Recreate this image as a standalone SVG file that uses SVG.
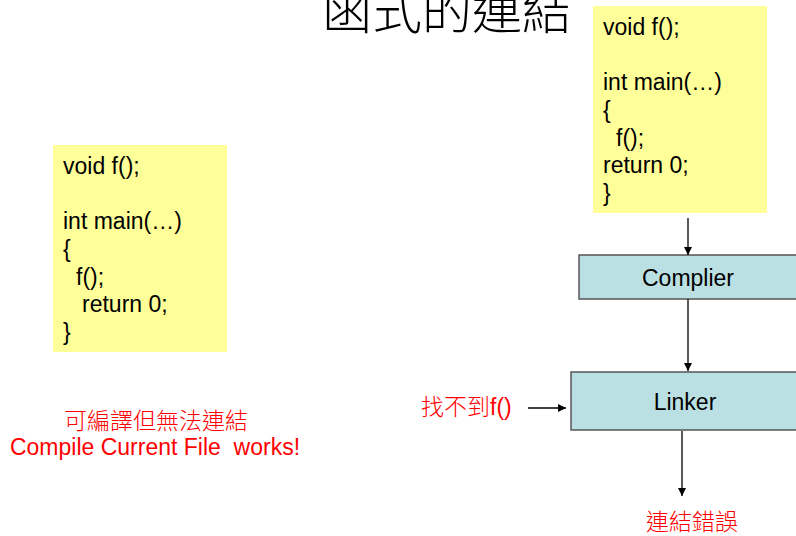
<svg xmlns="http://www.w3.org/2000/svg" width="796" height="536" viewBox="0 0 796 536">
<defs>
<marker id="ah" viewBox="0 0 10 10" refX="10" refY="5" markerWidth="10" markerHeight="8" markerUnits="userSpaceOnUse" orient="auto">
<path d="M0,0 L10,5 L0,10 Z" fill="#000"/>
</marker>
<style>
.code{fill:#FFFF99;stroke:none}
.proc{fill:#BBE0E3;stroke:#555;stroke-width:1.5}
.t{font-family:"Liberation Sans",Arial,sans-serif;font-size:23px;fill:#000}
.red{font-family:"Liberation Sans","Noto Sans CJK TC",sans-serif;font-size:23px;fill:#FF0000}
.cjk{font-family:"Noto Sans CJK TC",sans-serif;font-size:23px;fill:#FF0000;font-weight:300}
.title{font-family:"Noto Sans CJK TC",serif;font-size:50px;fill:#000;font-weight:300}
.conn{stroke:#000;stroke-width:1.3;fill:none;marker-end:url(#ah)}
</style>
</defs>
<rect width="796" height="536" fill="#fff"/>
<g id="title"><text class="title" x="322" y="29">函式的連結</text></g>
<g id="code-left">
<rect class="code" x="53" y="145" width="174" height="207"/>
<text class="t" x="63" y="174">void f();</text>
<text class="t" x="63" y="229">int main(…)</text>
<text class="t" x="63" y="257">{</text>
<text class="t" x="76" y="285">f();</text>
<text class="t" x="82" y="312">return 0;</text>
<text class="t" x="63" y="340">}</text>
</g>
<g id="code-right">
<rect class="code" x="593" y="6" width="174" height="207"/>
<text class="t" x="603" y="35">void f();</text>
<text class="t" x="603" y="90">int main(…)</text>
<text class="t" x="603" y="118">{</text>
<text class="t" x="616" y="146">f();</text>
<text class="t" x="603" y="173">return 0;</text>
<text class="t" x="603" y="201">}</text>
</g>
<g id="complier">
<rect class="proc" x="579" y="255" width="230" height="44"/>
<text class="t" x="688" y="286" text-anchor="middle">Complier</text>
</g>
<g id="linker">
<rect class="proc" x="571" y="372" width="240" height="58"/>
<text class="t" x="685" y="410" text-anchor="middle">Linker</text>
</g>
<g id="note-left">
<text class="cjk" x="156" y="429" text-anchor="middle">可編譯但無法連結</text>
<text class="red" x="155" y="455" text-anchor="middle" xml:space="preserve">Compile Current File  works!</text>
</g>
<g id="not-found">
<text x="421" y="415"><tspan class="cjk">找不到</tspan><tspan class="red">f()</tspan></text>
</g>
<g id="link-error">
<text class="cjk" x="692" y="530" text-anchor="middle">連結錯誤</text>
</g>
<g id="connectors">
<line class="conn" x1="688" y1="218" x2="688" y2="255"/>
<line class="conn" x1="688" y1="299" x2="688" y2="371"/>
<line class="conn" x1="682" y1="431" x2="682" y2="496"/>
<line class="conn" x1="528" y1="408" x2="566" y2="408"/>
</g>
</svg>
